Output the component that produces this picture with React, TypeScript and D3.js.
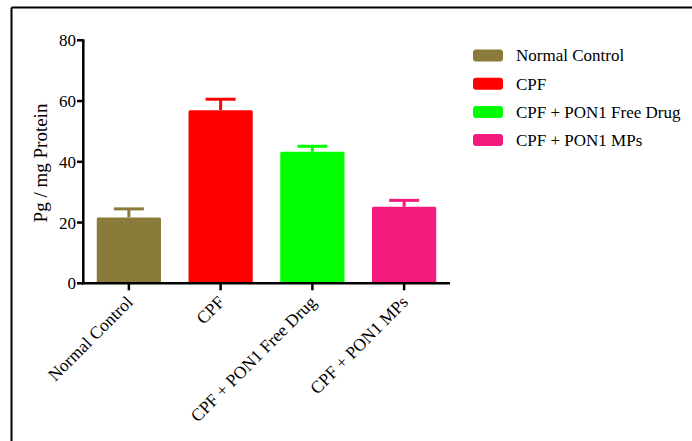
import React from "react";
import * as d3 from "d3";

const categories = ["Normal Control", "CPF", "CPF + PON1 Free Drug", "CPF + PON1 MPs"];
const means = [21.7, 57.0, 43.3, 25.2];
const errors = [2.8, 3.6, 1.8, 2.1];
const colors = ["#8B7B3A", "#FF0000", "#00FF00", "#F41B7E"];
const yTicks = [0, 20, 40, 60, 80];
const yLabel = "Pg / mg Protein";

const W = 692;
const H = 441;
const serif = { fontFamily: "Liberation Serif" };

export default function App() {
  const x = d3
    .scaleBand<string>()
    .domain(categories)
    .range([83, 450])
    .paddingInner(0.3)
    .paddingOuter(0.15);
  const y = d3.scaleLinear().domain([0, 80]).range([283.3, 40.3]);
  const bw = x.bandwidth();
  const capHalf = 15;

  return (
    <svg
      width={W}
      height={H}
      style={{ position: "absolute", left: 0, top: 0, background: "#fff" }}
    >
      <rect x={0} y={0} width={W} height={H} fill="#fff" />
      {/* frame */}
      <line x1={11.5} y1={7.5} x2={W} y2={7.5} stroke="#000" strokeWidth={2} />
      <line x1={11.5} y1={7.5} x2={11.5} y2={H} stroke="#000" strokeWidth={2} />

      {/* bars */}
      {categories.map((c, i) => {
        const cx = (x(c) as number) + bw / 2;
        const top = y(means[i]);
        const capY = y(means[i] + errors[i]);
        return (
          <g key={c}>
            <line x1={cx} x2={cx} y1={top} y2={capY} stroke={colors[i]} strokeWidth={3} />
            <line
              x1={cx - capHalf}
              x2={cx + capHalf}
              y1={capY}
              y2={capY}
              stroke={colors[i]}
              strokeWidth={3}
            />
            <rect
              x={x(c) as number}
              y={top}
              width={bw}
              height={y(0) - top}
              fill={colors[i]}
              rx={1.5}
            />
          </g>
        );
      })}

      {/* y axis */}
      <line x1={83.3} x2={83.3} y1={y(80) - 1} y2={y(0) + 1} stroke="#000" strokeWidth={2.5} />
      {yTicks.map((t) => (
        <g key={t}>
          <line x1={77} x2={83.3} y1={y(t)} y2={y(t)} stroke="#000" strokeWidth={2.5} />
          <text
            x={76}
            y={y(t)}
            dy="0.35em"
            textAnchor="end"
            fontSize={17}
            fill="#000"
            style={serif}
          >
            {t}
          </text>
        </g>
      ))}
      <text
        transform={`translate(47, 163) rotate(-90)`}
        textAnchor="middle"
        fontSize={19}
        fill="#000"
        style={serif}
      >
        {yLabel}
      </text>

      {/* x axis */}
      <line x1={82} x2={450} y1={y(0)} y2={y(0)} stroke="#000" strokeWidth={2.5} />
      {categories.map((c) => {
        const cx = (x(c) as number) + bw / 2;
        return (
          <g key={c}>
            <line x1={cx} x2={cx} y1={y(0)} y2={y(0) + 7} stroke="#000" strokeWidth={2.5} />
            <text
              transform={`translate(${cx + 5}, ${y(0) + 20}) rotate(-45)`}
              textAnchor="end"
              fontSize={17.5}
              fill="#000"
              style={serif}
            >
              {c}
            </text>
          </g>
        );
      })}

      {/* legend */}
      {categories.map((c, i) => {
        const cy = 55.5 + i * 28.2;
        return (
          <g key={c}>
            <rect x={473} y={cy - 6} width={30} height={12} rx={3} fill={colors[i]} />
            <text
              x={516}
              y={cy}
              dy="0.35em"
              fontSize={17}
              fill="#000"
              style={serif}
            >
              {c}
            </text>
          </g>
        );
      })}
    </svg>
  );
}
